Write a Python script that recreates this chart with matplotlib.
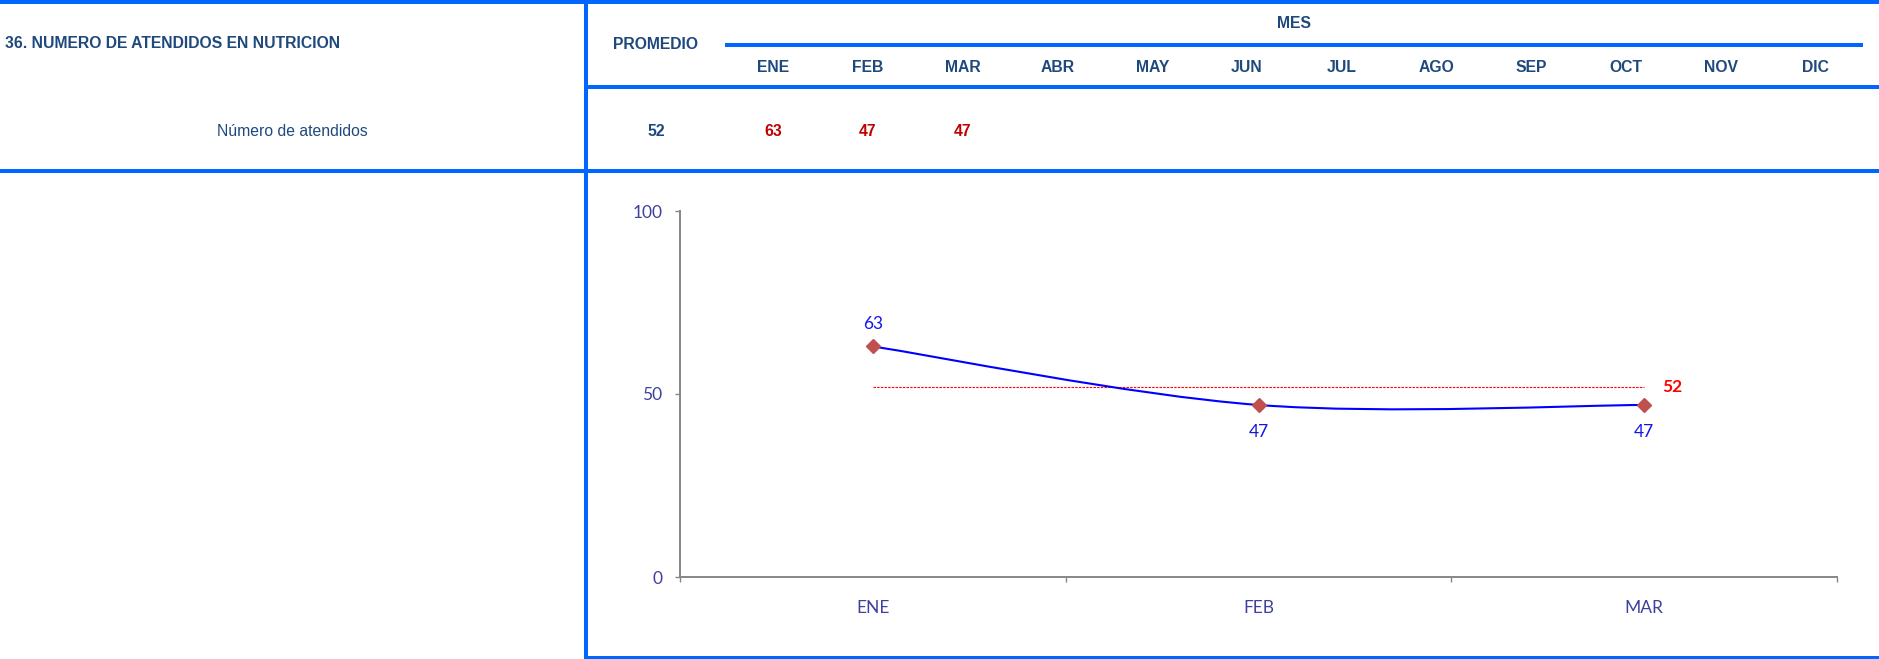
import numpy as np
import matplotlib
matplotlib.use("Agg")
import matplotlib.pyplot as plt
from matplotlib.path import Path
from matplotlib.patches import PathPatch, Rectangle

# values
titulo = "36. NUMERO DE ATENDIDOS EN NUTRICION"
indicador = "Número de atendidos"
meses = ["ENE", "FEB", "MAR", "ABR", "MAY", "JUN", "JUL", "AGO", "SEP", "OCT", "NOV", "DIC"]
meses_con_dato = ["ENE", "FEB", "MAR"]
atendidos = [63, 47, 47]
promedio = 52
y_ticks = [0, 50, 100]

W, H = 1879, 659
TXT_AZUL = "#1F497D"
TXT_ROJO = "#C00000"
BORDE = "#0066FF"
EJE = "#868686"
ETIQ = "#3F3F9F"
HEAD_FONT = ["Liberation Sans", "DejaVu Sans"]
CHART_FONT = ["Lato", "DejaVu Sans"]


def smooth_path(xs, ys, k=1 / 6):
    """cubic bezier through the points, like excel's 'smoothed line'"""
    pts = np.column_stack([xs, ys]).astype(float)
    n = len(pts)
    verts = [pts[0]]
    codes = [Path.MOVETO]
    for i in range(n - 1):
        p0 = pts[max(i - 1, 0)]
        p1 = pts[i]
        p2 = pts[i + 1]
        p3 = pts[min(i + 2, n - 1)]
        verts += [p1 + (p2 - p0) * k, p2 - (p3 - p1) * k, p2]
        codes += [Path.CURVE4] * 3
    return Path(verts, codes)


fig = plt.figure(figsize=(W / 100, H / 100), dpi=100)

# background layer in pixel coords (top-left origin) for the table grid
bg = fig.add_axes([0, 0, 1, 1], zorder=0)
bg.set_xlim(0, W)
bg.set_ylim(H, 0)
bg.axis("off")

# blue rules of the table: (x0, x1, y0, y1)
rules = [
    (0, W, 0, 3.5),
    (725, 1863, 43, 47),
    (586, W, 85, 89),
    (0, W, 169, 173),
    (586, W, 655.5, 659),
    (584, 588.5, 0, H),
]
for x0, x1, y0, y1 in rules:
    bg.add_patch(Rectangle((x0, y0), x1 - x0, y1 - y0, color=BORDE, lw=0))

head = dict(family=HEAD_FONT, fontsize=11.3, color=TXT_AZUL, va="baseline")
bg.text(5, 48.5, titulo, ha="left", weight="bold", **head)
bg.text(656, 49, "PROMEDIO", ha="center", weight="bold", **head)
bg.text(1294, 28, "MES", ha="center", weight="bold", **head)

col_x = 773 + 94.8 * np.arange(len(meses))
for cx, mes in zip(col_x, meses):
    bg.text(cx, 71.5, mes, ha="center", weight="bold", **head)

bg.text(292, 135.5, indicador, ha="center", **head)
bg.text(656, 135.5, f"{promedio}", ha="center", weight="bold", **head)
head_rojo = dict(head, color=TXT_ROJO)
for cx, v in zip(col_x, atendidos):
    bg.text(cx, 135.5, f"{v}", ha="center", weight="bold", **head_rojo)

# the chart
ax = fig.add_axes([680 / W, 1 - 577 / H, (1837 - 680) / W, (577 - 211) / H], zorder=1)
ax.patch.set_alpha(0)
x = np.arange(len(atendidos)) + 0.5
ax.set_xlim(0, len(atendidos))
ax.set_ylim(0, 100)

ax.add_patch(PathPatch(smooth_path(x, atendidos), facecolor="none",
                       edgecolor="#0000FF", lw=1.5, zorder=3))
ax.plot(x, atendidos, ls="none", marker="D", ms=7, color="#C0504D", zorder=4)

ax.plot([x[0], x[-1]], [promedio, promedio], color="#FF0000", lw=0.8,
        ls=(0, (2.2, 1.1)), zorder=2)
ax.annotate(f"{promedio}", (x[-1], promedio), xytext=(13, 0), textcoords="offset points",
            ha="left", va="center", color="#FF0000", weight="bold",
            family=CHART_FONT, fontsize=12.5)

for xi, v in zip(x, atendidos):
    dy = 16 if v >= promedio else -19.5
    ax.annotate(f"{v}", (xi, v), xytext=(0, dy), textcoords="offset points",
                ha="center", va="center", color="#1515E8",
                family=CHART_FONT, fontsize=12.5)

for side in ["top", "right"]:
    ax.spines[side].set_visible(False)
for side in ["left", "bottom"]:
    ax.spines[side].set_color(EJE)
    ax.spines[side].set_linewidth(1.4)

ax.set_yticks(y_ticks)
ax.set_xticks(np.arange(len(atendidos) + 1))
ax.set_xticklabels([])
ax.set_xticks(x, minor=True)
ax.set_xticklabels(meses_con_dato, minor=True)
ax.tick_params(axis="both", which="major", direction="out", length=3.6, width=1, color=EJE)
ax.tick_params(axis="y", pad=9, labelsize=12.5, labelcolor=ETIQ)
ax.tick_params(axis="x", which="minor", length=0, pad=16.5, labelsize=12.5, labelcolor=ETIQ)
for lbl in ax.get_yticklabels() + ax.get_xticklabels(minor=True):
    lbl.set_family(CHART_FONT)

fig.savefig("out.png", dpi=100)
